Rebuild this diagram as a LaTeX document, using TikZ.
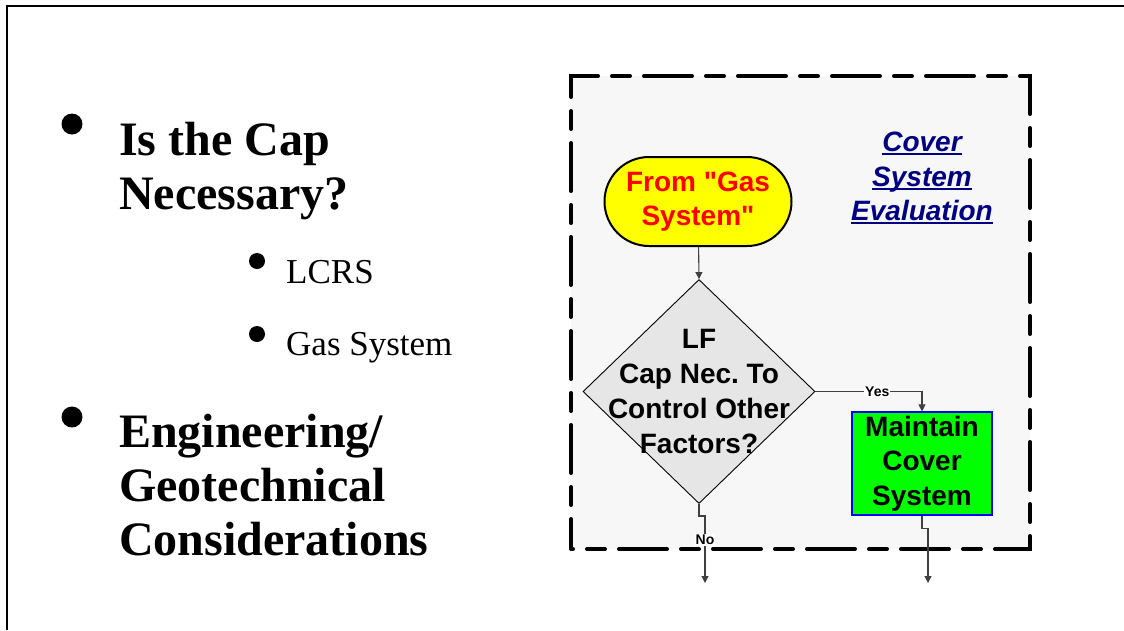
\documentclass[tikz,border=0pt]{standalone}
\usepackage{fontspec}
\setmainfont{Liberation Serif}
\newfontfamily\arialf{Liberation Sans}
\newsavebox\myulbox
\newcommand\myul[1]{\sbox\myulbox{#1}\rlap{\rule[-3.5pt]{\wd\myulbox}{1.8pt}}\usebox\myulbox}
\usetikzlibrary{shapes.geometric,shapes.misc,arrows.meta}
\definecolor{navyc}{HTML}{000080}
\definecolor{yelc}{HTML}{FFFF00}
\definecolor{grnc}{HTML}{00FF00}
\definecolor{bluec}{HTML}{0000FF}
\definecolor{diagray}{HTML}{E6E6E6}
\definecolor{conc}{HTML}{404040}
\frenchspacing
\begin{document}
\begin{tikzpicture}[x=1pt,y=-1pt,
  bigtxt/.style={font=\fontsize{48}{54}\selectfont\bfseries, align=left, inner sep=0pt, anchor=base west},
  smalltxt/.style={font=\fontsize{35}{40}\selectfont, inner sep=0pt, anchor=base west},
  bigdot/.style={circle, fill=black, inner sep=0pt, minimum size=21pt},
  smalldot/.style={circle, fill=black, inner sep=0pt, minimum size=16pt},
  flowfont/.style={font=\arialf\bfseries\fontsize{28}{34.7}\selectfont, align=center},
  dashbox/.style={draw=black, line width=4pt, line cap=round, dash pattern=on 48pt off 14pt on 18pt off 14pt, dash phase=46pt, fill=black!3, minimum width=459pt, minimum height=473pt, inner sep=0pt},
  terminal/.style={rounded rectangle, draw=black, line width=2pt, fill=yelc, minimum width=187pt, minimum height=89pt, inner sep=0pt, flowfont, text=red},
  decision/.style={diamond, draw=black, line width=0.9pt, fill=diagray, minimum width=232pt, minimum height=224pt, inner sep=0pt},
  process/.style={rectangle, draw=bluec, line width=1.2pt, fill=grnc, minimum width=140pt, minimum height=103pt, inner sep=0pt, flowfont},
  conn/.style={draw=conc, line width=1.1pt, -{Triangle[width=7pt,length=7pt]}},
  lbl/.style={font=\arialf\bfseries\fontsize{14}{14}\selectfont, fill=white, inner sep=1pt}
]
\useasboundingbox (0,0) rectangle (1124,630);
% slide frame
\draw[line width=2.5pt] (7,630) -- (7,6) -- (1124,6);

% left bullets
\node[bigdot] (b1) at (72,124) {};
\node[bigtxt] (t1) at (119,209) {Is the Cap\\Necessary?};
\node[smalldot] (s1) at (257,261) {};
\node[smalltxt] (t2) at (286,283) {LCRS};
\node[smalldot] (s2) at (257,334) {};
\node[smalltxt] (t3) at (286,355) {Gas System};
\node[bigdot] (b2) at (72,417) {};
\node[bigtxt] (t4) at (119,555) {Engineering/\\Geotechnical\\Considerations};

% flowchart region
\node[dashbox] (frame) at (800.5,312.5) {};
\node[flowfont, text=navyc, font=\arialf\bfseries\itshape\fontsize{28}{34.7}\selectfont] (title) at (922,178) {\myul{Cover}\\\myul{System}\\\myul{Evaluation}};
\node[terminal] (start) at (698,201.5) {From "Gas\\System"};
\node[decision, label={[flowfont]center:{LF\\Cap Nec. To\\Control Other\\Factors?}}] (dec) at (699,391.5) {};
\node[process] (keep) at (922,463.5) {Maintain\\Cover\\System};
\coordinate (noend) at (705,583);
\coordinate (yesend) at (928,583);

\draw[conn] (start) -- (dec.north);
\draw[conn] (dec.east) -| node[lbl, pos=0.29] (yes) {Yes} (keep.north);
\draw[conn] (dec.south) -- ++(0,12) -| node[lbl, pos=0.68] (no) {No} (noend);
\draw[conn] (keep.south) -- ++(0,13) -| (yesend);
\end{tikzpicture}
\end{document}
